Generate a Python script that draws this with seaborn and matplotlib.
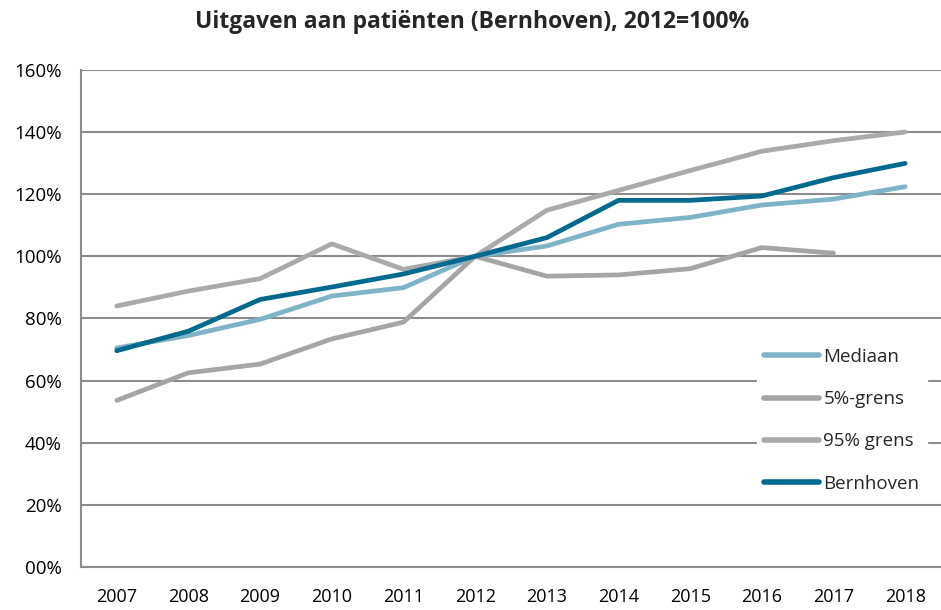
import pandas as pd
import numpy as np
import matplotlib
matplotlib.use("Agg")
import matplotlib.pyplot as plt
import seaborn as sns

# data (index, 2012 = 100%)
jaren = ["2007", "2008", "2009", "2010", "2011", "2012",
         "2013", "2014", "2015", "2016", "2017", "2018"]
mediaan = [70.5, 74.5, 79.7, 87.2, 89.9, 100, 103.3, 110.3, 112.5, 116.5, 118.4, 122.4]
grens5 = [53.6, 62.5, 65.3, 73.4, 78.8, 100, 93.6, 94.0, 96.0, 102.8, 101.0, np.nan]
grens95 = [84.0, 88.8, 92.8, 104.0, 95.8, 100, 114.8, 121.2, 127.6, 133.8, 137.2, 140.0]
bernhoven = [69.6, 75.9, 86.1, 90.1, 94.3, 100, 106.0, 118.0, 118.0, 119.4, 125.3, 129.9]

y_ticks = [0, 20, 40, 60, 80, 100, 120, 140, 160]
y_labels = ["00%", "20%", "40%", "60%", "80%", "100%", "120%", "140%", "160%"]

reeksen = ["Mediaan", "5%-grens", "95% grens", "Bernhoven"]
kleuren = {"Mediaan": "#7fb3c8", "5%-grens": "#a5a5a5",
           "95% grens": "#aaaaaa", "Bernhoven": "#006a8e"}

df = pd.DataFrame({"pos": range(len(jaren)), "Mediaan": mediaan, "5%-grens": grens5,
                   "95% grens": grens95, "Bernhoven": bernhoven})
lang = df.melt(id_vars="pos", var_name="reeks", value_name="waarde")

sns.set_style("white")
plt.rcParams["font.family"] = ["Open Sans", "DejaVu Sans"]

fig = plt.figure(figsize=(9.41, 6.10), dpi=100)
ax = fig.add_axes([0.086, 0.0705, 0.914, 0.815])

sns.lineplot(data=lang, x="pos", y="waarde", hue="reeks", hue_order=reeksen,
             palette=kleuren, linewidth=3.4, ax=ax, solid_capstyle="round")

ax.set_xlim(-0.5, len(jaren) - 0.5)
ax.set_ylim(0, 160)
ax.set_xlabel("")
ax.set_ylabel("")

ax.set_yticks(y_ticks)
ax.set_yticklabels(y_labels)
ax.set_xticks(range(len(jaren)))
ax.set_xticklabels(jaren)
ax.set_xticks(np.arange(-0.5, len(jaren), 1), minor=True)
ax.tick_params(axis="x", which="major", length=0, labelsize=13, pad=15, colors="#000000")
ax.tick_params(axis="x", which="minor", length=6, width=1.5, color="#888888", direction="out")
ax.tick_params(axis="y", length=5, width=1.5, color="#888888", direction="out",
               labelsize=13.5, pad=9, labelcolor="#000000")

ax.grid(axis="y", color="#8c8c8c", linewidth=1.5)
ax.set_axisbelow(True)
for s in ["top", "right"]:
    ax.spines[s].set_visible(False)
for s in ["left", "bottom"]:
    ax.spines[s].set_color("#8c8c8c")
    ax.spines[s].set_linewidth(1.5)

leg = ax.legend(loc="upper left", bbox_to_anchor=(0.775, 0.475), frameon=True,
                fontsize=13.5, handlelength=2.9, handletextpad=0.25,
                labelspacing=1.3, borderpad=0.4, fancybox=False)
leg.get_frame().set_facecolor("white")
leg.get_frame().set_edgecolor("white")
leg.get_frame().set_alpha(1)
for h in leg.get_lines():
    h.set_linewidth(4)
    h.set_solid_capstyle("round")

fig.suptitle("Uitgaven aan patiënten (Bernhoven), 2012=100%", fontsize=16.5,
             fontweight="bold", x=0.502, y=0.984)

fig.savefig("out.png", dpi=100, facecolor="white")
